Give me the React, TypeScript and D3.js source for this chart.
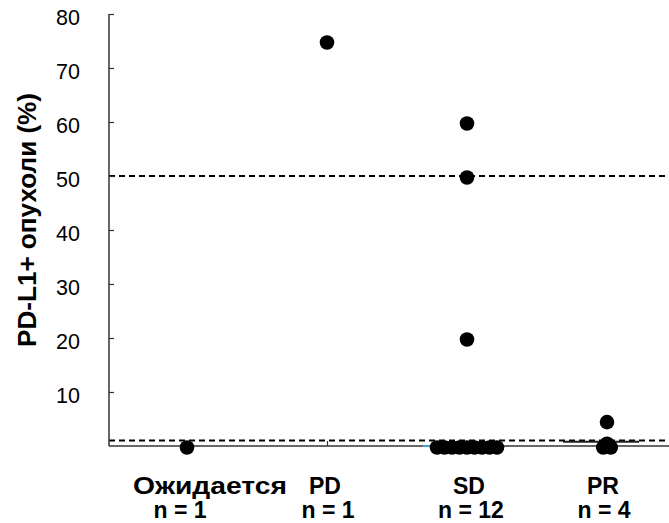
import React, { useEffect, useRef } from 'react'
import * as d3 from 'd3'

// categories and their values (PD-L1+ tumour cells, %)
const categories = ['Ожидается', 'PD', 'SD', 'PR']
const counts = ['n = 1', 'n = 1', 'n = 12', 'n = 4']
const awaitingValues = [0]
const pdValues = [75]
const sdValues = [60, 50, 20, 0, 0, 0, 0, 0, 0, 0, 0, 0]
const prValues = [4.7, 0.7, 0, 0]
const medians = [null, null, 0, 0.8]
const cutoffs = [50, 1]
const yTicks = [10, 20, 30, 40, 50, 60, 70, 80]

const W = 669
const H = 523

export default function App() {
  const ref = useRef<SVGSVGElement | null>(null)

  useEffect(() => {
    const svg = d3.select(ref.current)
    svg.selectAll('*').remove()

    const left = 109
    const right = 669
    const top = 14
    const bottom = 446
    const r = 7.3
    const spread = 7.5
    const font = 'Arial, "Liberation Sans", sans-serif'

    const y = d3.scaleLinear().domain([0, 80]).range([bottom, top])
    const x = d3.scalePoint<string>().domain(categories).range([187, 607])

    const groups = [awaitingValues, pdValues, sdValues, prValues]

    // cutoff lines
    svg.selectAll('line.cut')
      .data(cutoffs)
      .enter()
      .append('line')
      .attr('class', 'cut')
      .attr('x1', left)
      .attr('x2', right)
      .attr('y1', d => y(d))
      .attr('y2', d => y(d))
      .attr('stroke', '#000')
      .attr('stroke-width', 2)
      .attr('stroke-dasharray', '6,4')

    // y axis
    const yAxis = svg.append('g')
      .attr('transform', `translate(${left},0)`)
      .call(d3.axisLeft(y).tickValues(yTicks).tickSize(-5).tickPadding(29))
    yAxis.select('.domain').attr('d', `M0,${top}H-0V${bottom}`)
      .attr('stroke', '#333').attr('stroke-width', 1.5)
    yAxis.selectAll('.tick line').attr('stroke', '#333').attr('stroke-width', 1.2)
    yAxis.selectAll('.tick text')
      .attr('font-family', font)
      .attr('font-size', 21.5)
      .attr('fill', '#000')
      .attr('dy', '0.5em')

    // x axis
    const xAxis = svg.append('g')
      .attr('transform', `translate(0,${bottom})`)
      .call(d3.axisBottom(x).tickSize(-5).tickFormat(() => ''))
    xAxis.select('.domain').attr('d', `M${left},0H${right}`)
      .attr('stroke', '#333').attr('stroke-width', 1.5)
    xAxis.selectAll('.tick line').attr('stroke', '#333').attr('stroke-width', 1.2)

    // medians
    categories.forEach((c, i) => {
      const m = medians[i]
      if (m === null) return
      const cx = (x(c) as number) - 6
      svg.append('line')
        .attr('x1', cx - 38)
        .attr('x2', cx + 38)
        .attr('y1', y(m))
        .attr('y2', y(m))
        .attr('stroke', i === 2 ? '#4a9fd8' : '#222')
        .attr('stroke-width', 2)
    })

    // dots: equal values are spread side by side
    categories.forEach((c, i) => {
      const byValue = d3.group(groups[i], v => v)
      byValue.forEach(list => {
        list.forEach((v, j) => {
          const off = (j - (list.length - 1) / 2) * spread
          svg.append('circle')
            .attr('cx', (x(c) as number) + off)
            .attr('cy', y(v) + 1.5)
            .attr('r', r)
            .attr('fill', '#000')
        })
      })
    })

    // category labels (two lines)
    const nudge1 = [23, -2, 2, -4]
    const nudge2 = [-7, 1, 4, -3]
    categories.forEach((c, i) => {
      const t = svg.append('text')
        .attr('x', (x(c) as number) + nudge1[i])
        .attr('y', 494)
        .attr('text-anchor', 'middle')
        .attr('font-family', font)
        .attr('font-weight', 'bold')
        .attr('font-size', 23)
        .text(c)
      if (i === 0) t.attr('textLength', 154).attr('lengthAdjust', 'spacingAndGlyphs')
      svg.append('text')
        .attr('x', (x(c) as number) + nudge2[i])
        .attr('y', 518)
        .attr('text-anchor', 'middle')
        .attr('font-family', font)
        .attr('font-weight', 'bold')
        .attr('font-size', 23)
        .text(counts[i])
    })

    // y title
    svg.append('text')
      .attr('transform', `translate(36,220) rotate(-90)`)
      .attr('text-anchor', 'middle')
      .attr('font-family', font)
      .attr('font-weight', 'bold')
      .attr('font-size', 25)
      .attr('textLength', 254)
      .attr('lengthAdjust', 'spacingAndGlyphs')
      .text('PD-L1+ опухоли (%)')
  }, [])

  return (
    <svg ref={ref} width={W} height={H}
      style={{ position: 'absolute', left: 0, top: 0, background: '#fff' }} />
  )
}
